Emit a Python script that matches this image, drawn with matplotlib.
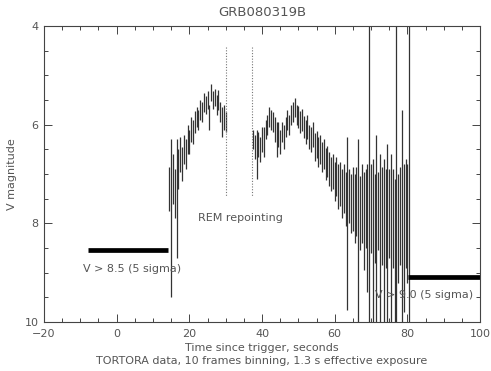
import matplotlib
matplotlib.use("Agg")
import numpy as np
import matplotlib.pyplot as plt
from matplotlib.ticker import MultipleLocator

# %% data
# first segment, before REM repointing
t1 = [14.5, 15.0, 15.5, 16.0, 16.5, 17.0, 17.5, 18.0, 18.5, 19.0, 19.5,
      20.0, 20.5, 21.0, 21.5, 22.0, 22.5, 23.0, 23.5, 24.0, 24.5, 25.0,
      25.5, 26.0, 26.5, 27.0, 27.5, 28.0, 28.5, 29.0, 29.5, 30.0]
m1 = [7.3, 7.9, 7.1, 7.4, 7.5, 6.9, 6.6, 6.8, 6.5, 6.6, 6.3,
      6.35, 6.1, 6.15, 5.95, 5.85, 5.9, 5.7, 5.75, 5.55, 5.6, 5.5,
      5.85, 5.35, 5.5, 5.45, 5.6, 5.5, 5.75, 5.95, 5.85, 5.95]
e1 = [0.45, 1.6, 0.5, 0.5, 1.2, 0.4, 0.35, 0.35, 0.3, 0.3, 0.3,
      0.25, 0.25, 0.25, 0.22, 0.2, 0.2, 0.2, 0.2, 0.2, 0.18, 0.18,
      0.25, 0.18, 0.18, 0.18, 0.2, 0.2, 0.2, 0.3, 0.25, 0.2]

# second segment, after repointing
t2 = [37.5, 38.0, 38.5, 39.0, 39.5, 40.0, 40.5, 41.0, 41.5, 42.0, 42.5,
      43.0, 43.5, 44.0, 44.5, 45.0, 45.5, 46.0, 46.5, 47.0, 47.5, 48.0,
      48.5, 49.0, 49.5, 50.0, 50.5, 51.0, 51.5, 52.0, 52.5, 53.0, 53.5,
      54.0, 54.5, 55.0, 55.5, 56.0, 56.5, 57.0, 57.5, 58.0, 58.5, 59.0,
      59.5, 60.0, 60.5, 61.0, 61.5, 62.0, 62.5, 63.0, 63.5, 64.0, 64.5,
      65.0, 65.5, 66.0, 66.5, 67.0, 67.5, 68.0, 68.5, 69.0, 69.5, 70.0,
      70.5, 71.0, 71.5, 72.0, 72.5, 73.0, 73.5, 74.0, 74.5, 75.0, 75.5,
      76.0, 76.5, 77.0, 77.5, 78.0, 78.5, 79.0, 79.5, 80.0, 80.5]
m2 = [6.3, 6.45, 6.6, 6.4, 6.5, 6.3, 6.35, 6.1, 6.0, 5.85, 5.9,
      5.95, 6.1, 6.3, 6.2, 6.35, 6.15, 6.25, 6.05, 5.9, 6.0, 5.8,
      5.75, 5.65, 5.8, 5.85, 5.95, 5.9, 6.05, 6.15, 6.05, 6.25, 6.3,
      6.2, 6.45, 6.4, 6.55, 6.5, 6.65, 6.6, 6.8, 6.75, 6.9, 7.0,
      6.95, 7.15, 7.05, 7.25, 7.2, 7.4, 7.3, 7.5, 8.0, 7.45, 7.6,
      7.5, 7.7, 7.55, 8.2, 7.8, 7.6, 7.95, 7.7, 8.1, 7.8, 7.7,
      8.4, 7.9, 8.1, 7.75, 8.3, 7.85, 8.4, 7.9, 8.2, 7.8, 8.3,
      7.9, 8.6, 7.9, 8.1, 7.85, 7.9, 8.3, 7.8, 8.0, 7.95]
e2 = [0.2, 0.25, 0.5, 0.25, 0.25, 0.25, 0.3, 0.2, 0.2, 0.2, 0.2,
      0.2, 0.25, 0.35, 0.25, 0.25, 0.2, 0.25, 0.2, 0.2, 0.2, 0.2,
      0.2, 0.2, 0.2, 0.22, 0.22, 0.22, 0.22, 0.25, 0.25, 0.25, 0.25,
      0.25, 0.28, 0.28, 0.3, 0.3, 0.3, 0.3, 0.32, 0.32, 0.35, 0.35,
      0.35, 0.4, 0.4, 0.45, 0.45, 0.5, 0.5, 0.55, 1.75, 0.55, 0.6,
      0.65, 0.7, 0.7, 1.9, 0.75, 0.8, 1.0, 0.8, 1.3, 6.0, 0.9,
      1.7, 0.9, 1.9, 0.8, 1.7, 1.0, 1.7, 1.0, 1.8, 0.9, 1.7,
      1.0, 1.5, 6.0, 1.1, 1.0, 2.2, 1.5, 1.1, 1.2, 6.0]

# 5 sigma upper limits
lim1_t = [-8.0, 14.0]
lim1_v = 8.55
lim2_t = [80.3, 100.0]
lim2_v = 9.08

# REM repointing gap
rem_t = [30.1, 37.2]
rem_v = [4.43, 7.45]

# %% plot
GREY = "#555555"
fig = plt.figure(figsize=(4.91, 3.71), dpi=100)
ax = fig.add_axes([44 / 491, 1 - 322 / 371, 436 / 491, 296 / 371])

for t, m, e in ((t1, m1, e1), (t2, m2, e2)):
    ax.errorbar(t, m, yerr=e, fmt="none", ecolor="#333333",
                elinewidth=0.9, capsize=0)

ax.plot(lim1_t, [lim1_v, lim1_v], color="black", lw=3.4, solid_capstyle="butt")
ax.plot(lim2_t, [lim2_v, lim2_v], color="black", lw=3.4, solid_capstyle="butt")

for x in rem_t:
    ax.plot([x, x], rem_v, color="#777777", lw=0.8, ls=(0, (1, 1.5)))

txt = dict(color=GREY, fontsize=8)
ax.text(22.3, 7.9, "REM repointing", ha="left", va="center", **txt)
ax.text(-9.2, 8.93, "V > 8.5 (5 sigma)", ha="left", va="center", **txt)
ax.text(71.0, 9.45, "V > 9.0 (5 sigma)", ha="left", va="center", **txt)

ax.set_xlim(-20, 100)
ax.set_ylim(10, 4)
ax.xaxis.set_major_locator(MultipleLocator(20))
ax.xaxis.set_minor_locator(MultipleLocator(5))
ax.yaxis.set_major_locator(MultipleLocator(2))
ax.yaxis.set_minor_locator(MultipleLocator(0.5))
ax.tick_params(which="both", direction="in", top=True, right=True,
               labeltop=False, labelright=False, colors="#444444",
               labelcolor=GREY, labelsize=8, width=0.7)
ax.tick_params(which="major", length=6)
ax.tick_params(which="minor", length=3)
ax.tick_params(axis="x", pad=5)
ax.tick_params(axis="y", pad=4)
for s in ax.spines.values():
    s.set_color("#444444")
    s.set_linewidth(0.8)

fig.text(262 / 491, 1 - 12 / 371, "GRB080319B", ha="center", va="center",
         color=GREY, fontsize=9.5)
fig.text(262 / 491, 1 - 348 / 371, "Time since trigger, seconds",
         ha="center", va="center", **txt)
fig.text(262 / 491, 1 - 361 / 371,
         "TORTORA data, 10 frames binning, 1.3 s effective exposure",
         ha="center", va="center", **txt)
fig.text(12 / 491, 1 - 174 / 371, "V magnitude", rotation=90,
         ha="center", va="center", **txt)

fig.savefig("out.png", dpi=100)
